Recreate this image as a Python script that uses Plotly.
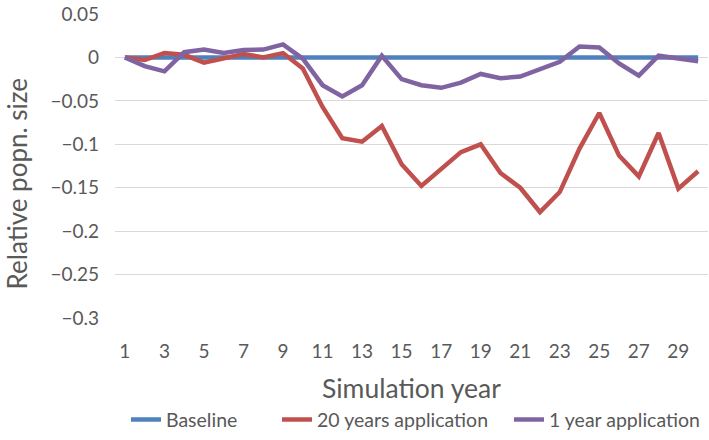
import plotly.graph_objects as go

years = list(range(1, 31))
baseline = [0.0] * 30
app20 = [0, -0.003, 0.005, 0.003, -0.006, -0.0015, 0.004, 0, 0.005, -0.0126,
         -0.057, -0.093, -0.097, -0.079, -0.123, -0.148, -0.129, -0.109, -0.100, -0.133,
         -0.150, -0.178, -0.155, -0.105, -0.064, -0.113, -0.137, -0.087, -0.151, -0.131]
app1 = [0, -0.010, -0.016, 0.006, 0.009, 0.005, 0.0085, 0.009, 0.015, -0.0015,
        -0.032, -0.045, -0.032, 0.002, -0.025, -0.032, -0.035, -0.029, -0.019, -0.024,
        -0.022, -0.013, -0.005, 0.0126, 0.0115, -0.007, -0.021, 0.002, -0.0015, -0.0044]
yticks = [0.05, 0, -0.05, -0.1, -0.15, -0.2, -0.25, -0.3]
ytick_text = ["0.05", "0", "\u22120.05", "\u22120.1", "\u22120.15", "\u22120.2", "\u22120.25", "\u22120.3"]
xticks = list(range(1, 30, 2))
x_title = "Simulation year"
y_title = "Relative popn. size"
series_names = ["Baseline", "20 years application", "1 year application"]
series_values = [baseline, app20, app1]

FONT = "Lato, sans-serif"
GRAY = "#595959"
colors = ["#4F81BD", "#C0504D", "#8064A2"]
legend_ids = ["legend", "legend2", "legend3"]
legend_x = [0.0185, 0.2732, 0.6644]

fig = go.Figure()
for name, vals, col, lid in zip(series_names, series_values, colors, legend_ids):
    fig.add_trace(go.Scatter(x=years, y=vals, mode="lines", name=name, legend=lid,
                             line=dict(color=col, width=4.5)))

legend_common = dict(orientation="h", xanchor="left", xref="paper", y=-0.335,
                     yanchor="middle", font=dict(size=19.5, color=GRAY),
                     itemwidth=30, bgcolor="rgba(0,0,0,0)")

fig.update_layout(
    width=709, height=440,
    margin=dict(l=115, r=1, t=14, b=112),
    paper_bgcolor="white", plot_bgcolor="white",
    font=dict(family=FONT, color=GRAY, size=19),
    showlegend=True,
    legend=dict(x=legend_x[0], **legend_common),
    legend2=dict(x=legend_x[1], **legend_common),
    legend3=dict(x=legend_x[2], **legend_common),
    annotations=[
        dict(text=x_title, xref="paper", yref="paper", x=0.5, y=-0.229,
             xanchor="center", yanchor="middle", showarrow=False,
             font=dict(size=26.5, color=GRAY)),
        dict(text=y_title, xref="paper", yref="paper", x=-0.165, y=0.44,
             xanchor="center", yanchor="middle", showarrow=False, textangle=-90,
             font=dict(size=26, color=GRAY)),
    ],
)
fig.update_xaxes(range=[0.5, 30.5], tickvals=xticks, showgrid=False, zeroline=False,
                 showline=False, ticks="", automargin=False, ticklabelstandoff=20,
                 tickfont=dict(size=19, color=GRAY))
fig.update_yaxes(range=[-0.3, 0.05], tickvals=yticks, ticktext=ytick_text,
                 showgrid=True, gridcolor="#D9D9D9", gridwidth=1.3, zeroline=False,
                 showline=False, ticks="", automargin=False, ticklabelstandoff=15,
                 tickfont=dict(size=19, color=GRAY))

fig.write_html("out.html", config={"displayModeBar": False},
               post_script="document.body.style.margin='0';")
